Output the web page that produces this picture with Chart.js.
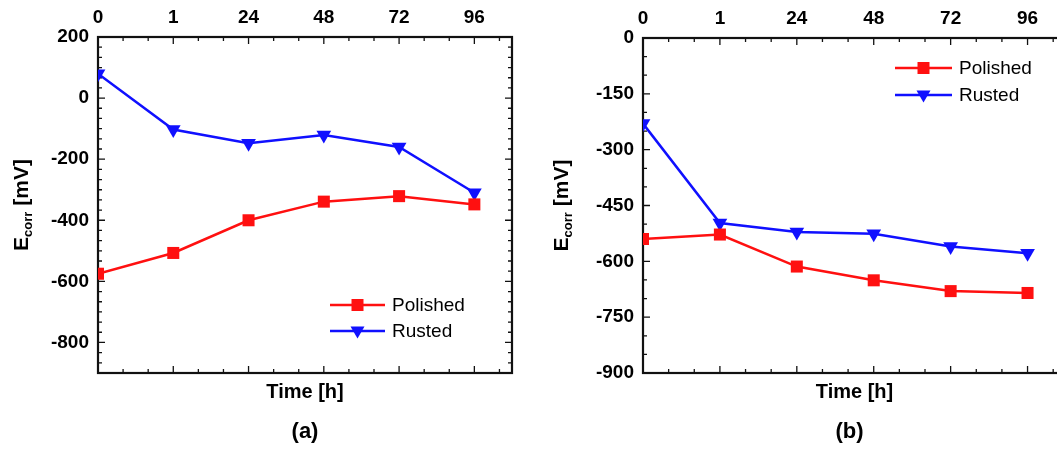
<!DOCTYPE html>
<html>
<head>
<meta charset="utf-8">
<script src="https://cdn.jsdelivr.net/npm/chart.js@4.4.1/dist/chart.umd.min.js"></script>
<style>
  html, body { margin: 0; padding: 0; background: #fff; }
  body { width: 1057px; height: 451px; overflow: hidden; position: relative; }
  canvas { position: absolute; top: 0; }
  #chartA { left: 0; }
  #chartB { left: 540px; }
</style>
</head>
<body>
<canvas id="chartA" width="540" height="451"></canvas>
<canvas id="chartB" width="540" height="451"></canvas>
<script>
// time points (top axis labels)
const hours = ['0', '1', '24', '48', '72', '96'];

// panel (a)
const polishedA = [-575, -507, -400, -339, -321, -348];
const rustedA = [80, -103, -148, -121, -160, -310];
const yTicksA = [200, 0, -200, -400, -600, -800];

// panel (b)
const polishedB = [-540, -528, -614, -651, -680, -685];
const rustedB = [-230, -497, -521, -526, -560, -578];
const yTicksB = [0, -150, -300, -450, -600, -750, -900];

const seriesNames = ['Polished', 'Rusted'];
const RED = '#ff1010';
const BLUE = '#1010ff';
const FONT = "'Liberation Sans', Arial, sans-serif";

Chart.defaults.font.family = FONT;
Chart.defaults.color = '#000';

function toPoints(vals) {
  return vals.map((v, i) => ({ x: i, y: v }));
}

function drawMarker(ctx, style, x, y, color) {
  ctx.fillStyle = color;
  ctx.beginPath();
  if (style === 'rect') {
    ctx.rect(x - 6, y - 6, 12, 12);
  } else {
    ctx.moveTo(x - 7, y - 4.5);
    ctx.lineTo(x + 7, y - 4.5);
    ctx.lineTo(x, y + 7.5);
    ctx.closePath();
  }
  ctx.fill();
}

// frame, inward ticks, y title, legend and panel letter
const decorations = {
  id: 'decorations',
  beforeDatasetsDraw(chart, args, o) {
    const { ctx, chartArea: a, scales } = chart;
    const x = scales.x, y = scales.y;
    ctx.save();
    ctx.strokeStyle = '#111';
    ctx.lineWidth = 1.3;
    ctx.beginPath();
    // x ticks, three per category step
    for (let i = 0; i <= o.xMax * 3 + 1e-6; i++) {
      const px = x.getPixelForValue(i / 3);
      const len = i % 3 === 0 ? 7 : 4;
      ctx.moveTo(px, a.bottom); ctx.lineTo(px, a.bottom - len);
      ctx.moveTo(px, a.top); ctx.lineTo(px, a.top + len);
    }
    // y ticks
    const n = Math.round((o.yMax - o.yMin) / o.yMinor);
    for (let i = 0; i <= n; i++) {
      const v = o.yMin + i * o.yMinor;
      const py = y.getPixelForValue(v);
      const major = Math.abs(((v - o.yMajorBase) / o.yMajor) - Math.round((v - o.yMajorBase) / o.yMajor)) < 1e-6;
      const len = major ? 7 : 4;
      ctx.moveTo(a.left, py); ctx.lineTo(a.left + len, py);
      ctx.moveTo(a.right, py); ctx.lineTo(a.right - len, py);
    }
    ctx.stroke();
    ctx.lineWidth = 2.2;
    ctx.strokeRect(a.left, a.top, a.right - a.left, a.bottom - a.top);
    ctx.restore();
  },
  afterDraw(chart, args, o) {
    const { ctx, chartArea: a } = chart;
    ctx.save();
    // y axis title: E_corr [mV]
    const cy = (a.top + a.bottom) / 2;
    ctx.translate(a.left - o.titleOffset, cy);
    ctx.rotate(-Math.PI / 2);
    ctx.fillStyle = '#000';
    ctx.textBaseline = 'middle';
    const big = 'bold 21px ' + FONT, small = 'bold 13px ' + FONT;
    ctx.font = big;
    const wE = ctx.measureText('E').width;
    const wR = ctx.measureText(' [mV]').width;
    ctx.font = small;
    const wS = ctx.measureText('corr').width;
    let tx = -(wE + wS + wR) / 2;
    ctx.font = big;
    ctx.textAlign = 'left';
    ctx.fillText('E', tx, 0);
    tx += wE;
    ctx.font = small;
    ctx.fillText('corr', tx, 6);
    tx += wS;
    ctx.font = big;
    ctx.fillText(' [mV]', tx, 0);
    ctx.restore();

    // legend
    ctx.save();
    const lg = o.legend;
    const styles = ['rect', 'tri'];
    const colors = [RED, BLUE];
    seriesNames.forEach((name, i) => {
      const ly = lg.y + i * lg.gap;
      ctx.strokeStyle = colors[i];
      ctx.lineWidth = 2.5;
      ctx.beginPath();
      ctx.moveTo(lg.x, ly); ctx.lineTo(lg.x + lg.len, ly);
      ctx.stroke();
      drawMarker(ctx, styles[i], lg.x + lg.len / 2, ly, colors[i]);
      ctx.fillStyle = '#000';
      ctx.font = '19px ' + FONT;
      ctx.textBaseline = 'middle';
      ctx.textAlign = 'left';
      ctx.fillText(name, lg.x + lg.len + 7, ly + 1);
    });

    // panel letter
    ctx.font = 'bold 22px ' + FONT;
    ctx.textAlign = 'center';
    ctx.textBaseline = 'middle';
    ctx.fillText(o.letter, (a.left + a.right) / 2 + o.letterShift, o.letterY);
    ctx.restore();
  }
};

function makeChart(id, polished, rusted, yTicks, yMin, yMax, cfg) {
  return new Chart(document.getElementById(id), {
    type: 'line',
    data: {
      datasets: [
        {
          label: seriesNames[0],
          data: toPoints(polished),
          borderColor: RED,
          backgroundColor: RED,
          borderWidth: 2.5,
          pointStyle: 'rect',
          pointRadius: 8.5,
          pointBorderWidth: 0,
          pointHoverRadius: 8.5
        },
        {
          label: seriesNames[1],
          data: toPoints(rusted),
          borderColor: BLUE,
          backgroundColor: BLUE,
          borderWidth: 2.5,
          pointStyle: 'triangle',
          pointRotation: 180,
          pointRadius: 8.5,
          pointBorderWidth: 0,
          pointHoverRadius: 8.5
        }
      ]
    },
    options: {
      responsive: false,
      animation: false,
      layout: { padding: { left: 0, right: cfg.padRight, top: 0, bottom: 0 } },
      plugins: {
        legend: { display: false },
        tooltip: { enabled: false },
        decorations: {
          xMax: 5.5,
          yMin: yMin, yMax: yMax,
          yMinor: cfg.yMinor, yMajor: cfg.yMajor, yMajorBase: yTicks[0],
          titleOffset: cfg.titleOffset,
          legend: cfg.legend,
          letter: cfg.letter, letterY: 432, letterShift: cfg.letterShift
        }
      },
      scales: {
        x: {
          type: 'linear',
          position: 'top',
          min: 0, max: 5.5,
          grid: { display: false, drawTicks: false },
          border: { display: false },
          afterBuildTicks: s => { s.ticks = hours.map((h, i) => ({ value: i })); },
          afterFit: s => { s.height = cfg.top; },
          ticks: {
            padding: 8,
            font: { size: 19, weight: 'bold' },
            maxRotation: 0,
            callback: v => hours[v]
          }
        },
        x2: {
          type: 'linear',
          position: 'bottom',
          min: 0, max: 5.5,
          grid: { display: false, drawTicks: false },
          border: { display: false },
          ticks: { display: false },
          afterFit: s => { s.height = 451 - 373; },
          title: {
            display: true,
            text: 'Time [h]',
            font: { size: 20, weight: 'bold' },
            padding: { top: 0, bottom: 47 }
          }
        },
        y: {
          type: 'linear',
          position: 'left',
          min: yMin, max: yMax,
          grid: { display: false, drawTicks: false },
          border: { display: false },
          afterBuildTicks: s => { s.ticks = yTicks.map(v => ({ value: v })); },
          afterFit: s => { s.width = cfg.left; },
          ticks: {
            padding: 9,
            font: { size: 19, weight: 'bold' }
          }
        }
      }
    },
    plugins: [decorations]
  });
}

makeChart('chartA', polishedA, rustedA, yTicksA, -900, 200, {
  left: 98, top: 37, padRight: 28,
  yMinor: 200 / 6, yMajor: 200,
  titleOffset: 76,
  legend: { x: 330, y: 305, gap: 26, len: 55 },
  letter: '(a)', letterShift: 0
});

makeChart('chartB', polishedB, rustedB, yTicksB, -900, 0, {
  left: 103, top: 38, padRight: 14,
  yMinor: 50, yMajor: 150,
  titleOffset: 81,
  legend: { x: 355, y: 68, gap: 27, len: 57 },
  letter: '(b)', letterShift: -5
});
</script>
</body>
</html>
